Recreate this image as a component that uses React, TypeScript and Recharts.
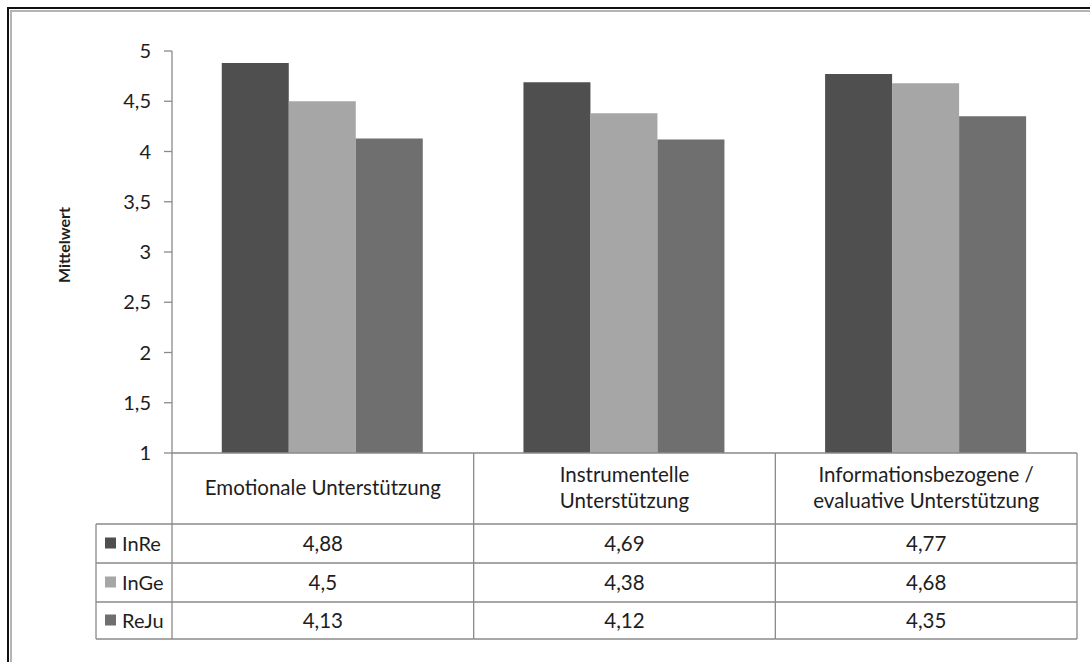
import { BarChart, Bar, XAxis, YAxis } from 'recharts'

// Kategorien (Kopfzeile der Datentabelle, mit Zeilenumbruch wie im Original)
const categories = [
  'Emotionale Unterstützung',
  'Instrumentelle Unterstützung',
  'Informationsbezogene / evaluative Unterstützung',
]
const categoryLines = [
  ['Emotionale Unterstützung'],
  ['Instrumentelle', 'Unterstützung'],
  ['Informationsbezogene /', 'evaluative Unterstützung'],
]

const seriesNames = ['InRe', 'InGe', 'ReJu']
const inRe = [4.88, 4.69, 4.77]
const inGe = [4.5, 4.38, 4.68]
const reJu = [4.13, 4.12, 4.35]
const seriesColors = ['#4f4f4f', '#a6a6a6', '#6f6f6f']

const yTicks = [1, 1.5, 2, 2.5, 3, 3.5, 4, 4.5, 5]

const chartData = categories.map((name, i) => ({
  name,
  InRe: inRe[i],
  InGe: inGe[i],
  ReJu: reJu[i],
}))
const seriesValues = [inRe, inGe, reJu]

const W = 1090
const H = 662
const PLOT_LEFT = 172
const PLOT_RIGHT = 1077
const PLOT_BOTTOM = 453
const COL_W = (PLOT_RIGHT - PLOT_LEFT) / categories.length
const HEADER_BOTTOM = 524
const ROW_LINES = [524, 563, 602, 639]
const LEGEND_LEFT = 96
const FONT = 'Lato, "Open Sans", sans-serif'
const LINE = '#8a8a8a'
const TEXT = '#1e1e1e'

const fmt = (v: number) => String(v).replace('.', ',')

// Zeichnet Kopfzeile und Werte-Spalte jeder Kategorie als Datentabelle
function TableTick(props: any) {
  const { x, index } = props
  const left = x - COL_W / 2
  const right = x + COL_W / 2
  const lines = categoryLines[index]
  const headerMid = (PLOT_BOTTOM + HEADER_BOTTOM) / 2 - 0.5
  return (
    <g>
      {lines.map((t, k) => (
        <text
          key={k}
          x={x}
          y={headerMid + (k - (lines.length - 1) / 2) * 26}
          dy="0.35em"
          textAnchor="middle"
          fontSize={20.5}
          fontFamily={FONT}
          fill={TEXT}
        >
          {t}
        </text>
      ))}
      {seriesValues.map((vals, r) => (
        <text
          key={r}
          x={x}
          y={(ROW_LINES[r] + ROW_LINES[r + 1]) / 2}
          dy="0.35em"
          textAnchor="middle"
          fontSize={20.5}
          fontFamily={FONT}
          fill={TEXT}
        >
          {fmt(vals[index])}
        </text>
      ))}
      <line x1={right} x2={right} y1={PLOT_BOTTOM} y2={ROW_LINES[3]} stroke={LINE} strokeWidth={1.3} />
      {ROW_LINES.map((ly) => (
        <line key={ly} x1={left} x2={right} y1={ly} y2={ly} stroke={LINE} strokeWidth={1.3} />
      ))}
      {index === 0 && (
        <g>
          <line x1={left} x2={left} y1={PLOT_BOTTOM} y2={ROW_LINES[3]} stroke={LINE} strokeWidth={1.3} />
          <line x1={LEGEND_LEFT} x2={LEGEND_LEFT} y1={ROW_LINES[0]} y2={ROW_LINES[3]} stroke={LINE} strokeWidth={1.3} />
          {ROW_LINES.map((ly) => (
            <line key={ly} x1={LEGEND_LEFT} x2={left} y1={ly} y2={ly} stroke={LINE} strokeWidth={1.3} />
          ))}
          {seriesNames.map((s, r) => {
            const cy = (ROW_LINES[r] + ROW_LINES[r + 1]) / 2
            return (
              <g key={s}>
                <rect x={105} y={cy - 6} width={11} height={11} fill={seriesColors[r]} />
                <text x={122} y={cy} dy="0.35em" fontSize={20} fontFamily={FONT} fill={TEXT}>
                  {s}
                </text>
              </g>
            )
          })}
        </g>
      )}
    </g>
  )
}

function YLabel(props: any) {
  const { viewBox } = props
  const cy = viewBox.y + viewBox.height / 2 - 7
  return (
    <text
      x={64}
      y={cy}
      transform={`rotate(-90, 64, ${cy})`}
      textAnchor="middle"
      dy="0.35em"
      fontSize={16}
      fontWeight="bold"
      fontFamily={FONT}
      fill={TEXT}
    >
      Mittelwert
    </text>
  )
}

export default function App() {
  return (
    <div style={{ position: 'absolute', left: 0, top: 0, width: W, height: H, background: '#fff', overflow: 'hidden' }}>
      {/* Rahmen (oben und links, doppelt) */}
      <div style={{ position: 'absolute', left: 7, top: 7, right: -10, bottom: -10, borderTop: '2px solid #111', borderLeft: '2px solid #111' }} />
      <div style={{ position: 'absolute', left: 10, top: 10, right: -10, bottom: -10, borderTop: '2px solid #b4b4b4', borderLeft: '2px solid #b4b4b4' }} />
      <div style={{ position: 'absolute', left: 0, top: 0 }}>
        <BarChart
          width={W}
          height={H}
          data={chartData}
          margin={{ top: 51, right: W - PLOT_RIGHT, bottom: 0, left: 0 }}
          barCategoryGap="16.5%"
          barGap={0}
        >
          <XAxis
            dataKey="name"
            height={H - PLOT_BOTTOM}
            axisLine={{ stroke: LINE, strokeWidth: 1.3 }}
            tickLine={false}
            tick={<TableTick />}
            interval={0}
          />
          <YAxis
            width={PLOT_LEFT}
            domain={[1, 5]}
            ticks={yTicks}
            tickFormatter={fmt}
            axisLine={{ stroke: LINE, strokeWidth: 1.3 }}
            tickLine={{ stroke: LINE, strokeWidth: 1.3 }}
            tickSize={8}
            tickMargin={13}
            tick={{ fontSize: 20, fontFamily: FONT, fill: TEXT }}
            label={<YLabel />}
          />
          {seriesNames.map((s, i) => (
            <Bar key={s} dataKey={s} fill={seriesColors[i]} isAnimationActive={false} />
          ))}
        </BarChart>
      </div>
    </div>
  )
}
